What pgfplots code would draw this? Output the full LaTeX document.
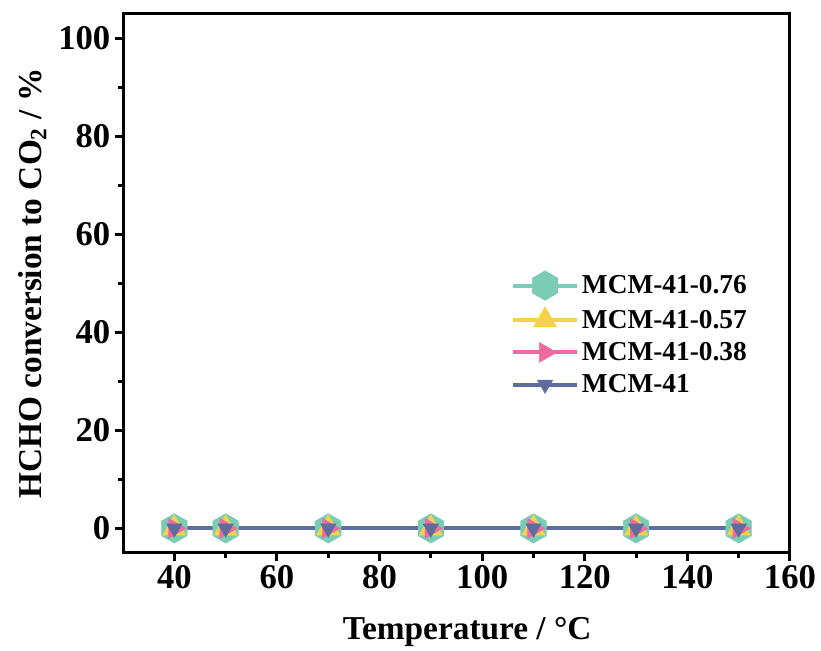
\documentclass[border=0pt]{standalone}
\usepackage{fontspec}
\setmainfont{Liberation Serif}
\usepackage{pgfplots}
\pgfplotsset{compat=1.18}
\usetikzlibrary{calc}
\definecolor{cA}{HTML}{7ACDB4}
\definecolor{cB}{HTML}{F6D24C}
\definecolor{cC}{HTML}{EE6AA0}
\definecolor{cD}{HTML}{5E6C9E}
\pgfdeclareplotmark{hexagon}{%
  \pgfpathmoveto{\pgfqpointpolar{90}{\pgfplotmarksize}}%
  \pgfpathlineto{\pgfqpointpolar{150}{\pgfplotmarksize}}%
  \pgfpathlineto{\pgfqpointpolar{210}{\pgfplotmarksize}}%
  \pgfpathlineto{\pgfqpointpolar{270}{\pgfplotmarksize}}%
  \pgfpathlineto{\pgfqpointpolar{330}{\pgfplotmarksize}}%
  \pgfpathlineto{\pgfqpointpolar{30}{\pgfplotmarksize}}%
  \pgfpathclose
  \pgfusepathqfillstroke}
\begin{document}
\begin{tikzpicture}
\begin{axis}[
  scale only axis,
  width=500pt, height=404pt,
  xmin=30, xmax=160, ymin=-5, ymax=105,
  xtick={40,60,...,160}, ytick={0,20,...,100},
  minor x tick num=1, minor y tick num=1,
  axis line style={line width=2.25pt},
  every tick/.style={line width=2.25pt, black},
  major tick length=6pt, minor tick length=4pt,
  tick align=outside,
  xtick pos=bottom, ytick pos=left,
  /pgf/number format/assume math mode=true,
  tick label style={font=\fontsize{26}{30}\selectfont\bfseries},
  xlabel={Temperature / °C},
  ylabel={HCHO conversion to CO\textsubscript{2} / \%},
  label style={font=\fontsize{25}{29}\selectfont\bfseries},
  xlabel style={yshift=-14pt, xshift=8pt},
  ylabel style={yshift=2pt},
  legend style={draw=none, fill=none, at={(0.575,0.406)}, anchor=west,
    font=\fontsize{20.5}{24}\selectfont\bfseries, row sep=5pt},
  legend cell align=left,
  legend image code/.code={\draw[mark repeat=2,mark phase=2] plot coordinates {(0cm,0cm) (0.85cm,0cm) (1.7cm,0cm)};},
  clip=false,
]
\addplot[color=cA, line width=3pt, mark=hexagon, mark size=11pt, mark options={solid, fill=cA, draw=cA, line width=0.5pt}]
  coordinates {(40,0) (50,0) (70,0) (90,0) (110,0) (130,0) (150,0)};
\addlegendentry{MCM-41-0.76}
\addplot[color=cB, line width=3pt, mark=triangle*, mark size=10pt, mark options={solid, fill=cB, draw=cB, line width=0.5pt}]
  coordinates {(40,0) (50,0) (70,0) (90,0) (110,0) (130,0) (150,0)};
\addlegendentry{MCM-41-0.57}
\addplot[color=cC, line width=3pt, mark=triangle*, mark size=8.5pt, mark options={solid, fill=cC, draw=cC, rotate=-90, line width=0.5pt}]
  coordinates {(40,0) (50,0) (70,0) (90,0) (110,0) (130,0) (150,0)};
\addlegendentry{MCM-41-0.38}
\addplot[color=cD, line width=3pt, mark=triangle*, mark size=6.5pt, mark options={solid, fill=cD, draw=cD, rotate=180, line width=0.5pt}]
  coordinates {(40,0) (50,0) (70,0) (90,0) (110,0) (130,0) (150,0)};
\addlegendentry{MCM-41}
\end{axis}
\path ($(current axis.south west)+(-92.25pt,-71.25pt)$) rectangle ($(current axis.north east)+(23.25pt,10.5pt)$);
\end{tikzpicture}
\end{document}
